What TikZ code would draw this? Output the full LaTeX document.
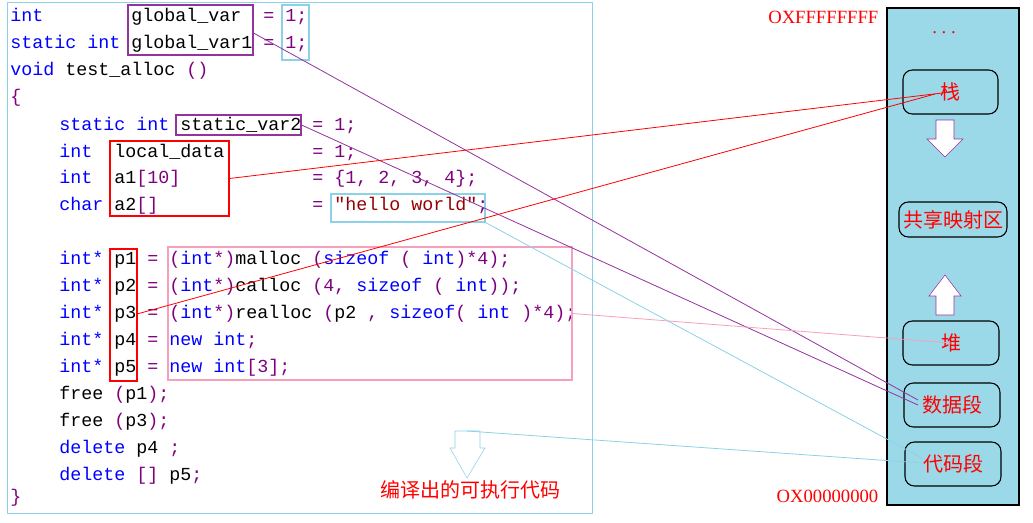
\documentclass[tikz,border=0pt]{standalone}
\usepackage{fontspec}
\setmainfont{Liberation Serif}
\setmonofont{Liberation Mono}
\newfontfamily\cjk{Noto Sans CJK SC}
\usetikzlibrary{fit}

\definecolor{kwblue}{RGB}{0,0,255}
\definecolor{numpurple}{RGB}{128,0,128}
\definecolor{strred}{RGB}{150,0,0}
\definecolor{boxcyan}{RGB}{140,210,230}
\definecolor{boxpurple}{RGB}{150,50,160}
\definecolor{boxpink}{RGB}{245,160,190}
\definecolor{memblue}{RGB}{155,217,232}

\newcommand{\kw}[1]{\textcolor{kwblue}{#1}}
\newcommand{\nm}[1]{\textcolor{numpurple}{#1}}
\newcommand{\st}[1]{\textcolor{strred}{#1}}

\tikzset{
  code/.style={anchor=west, inner sep=0pt, font=\ttfamily\fontsize{13.75}{16}\selectfont},
  frame/.style={draw, color=#1, inner sep=0pt, line width=0.8pt},
  seg/.style={draw, thick, rounded corners=7pt, inner sep=0pt},
  segtext/.style={text=red, font=\cjk\fontsize{15}{17}\selectfont},
  addr/.style={text=red, font=\fontsize{14}{16}\selectfont},
  link/.style={line width=0.6pt}
}

\begin{document}
\begin{tikzpicture}[x=0.75pt, y=-0.75pt]
  \useasboundingbox (0,0) rectangle (1033,522);
  \fill[white] (0,0) rectangle (1033,522);

  % source code
  \draw[boxcyan, line width=0.6pt] (7,2) rectangle (592,513);
  \node[code] (l1) at (10,17) {\kw{int}~~~~~~~~global\_var~~\nm{=}~\nm{1;}};
  \node[code] (l2) at (10,44) {\kw{static}~\kw{int}~global\_var1~\nm{=}~\nm{1;}};
  \node[code] (l3) at (10,71) {\kw{void}~test\_alloc~\nm{()}};
  \node[code] (l4) at (10,98) {\nm{\{}};
  \node[code] (l5) at (59,125) {\kw{static}~\kw{int}~static\_var2~\nm{=}~\nm{1;}};
  \node[code] (l6) at (59,152) {\kw{int}~~local\_data~~~~~~~~\nm{=}~\nm{1;}};
  \node[code] (l7) at (59,179) {\kw{int}~~a1\nm{[10]}~~~~~~~~~~~~\nm{=}~\nm{\{1,~2,~3,~4\};}};
  \node[code] (l8) at (59,206) {\kw{char}~a2\nm{[]}~~~~~~~~~~~~~~\nm{=}~\st{"hello~world"}\nm{;}};
  \node[code] (l9) at (59,260) {\kw{int*}~p1~\nm{=}~\nm{(}\kw{int}\nm{*)}malloc~\nm{(}\kw{sizeof}~\nm{(}~\kw{int}\nm{)*4);}};
  \node[code] (l10) at (59,287) {\kw{int*}~p2~\nm{=}~\nm{(}\kw{int}\nm{*)}calloc~\nm{(4,}~\kw{sizeof}~\nm{(}~\kw{int}\nm{));}};
  \node[code] (l11) at (59,314) {\kw{int*}~p3~\nm{=}~\nm{(}\kw{int}\nm{*)}realloc~\nm{(}p2~\nm{,}~\kw{sizeof}\nm{(}~\kw{int}~\nm{)*4);}};
  \node[code] (l12) at (59,341) {\kw{int*}~p4~\nm{=}~\kw{new}~\kw{int}\nm{;}};
  \node[code] (l13) at (59,368) {\kw{int*}~p5~\nm{=}~\kw{new}~\kw{int}\nm{[3];}};
  \node[code] (l14) at (59,395) {free~\nm{(}p1\nm{);}};
  \node[code] (l15) at (59,422) {free~\nm{(}p3\nm{);}};
  \node[code] (l16) at (59,449) {\kw{delete}~p4~\nm{;}};
  \node[code] (l17) at (59,476) {\kw{delete}~\nm{[]}~p5\nm{;}};
  \node[code] (l18) at (10,498) {\nm{\}}};
  \node[segtext] (exe) at (470,490) {编译出的可执行代码};

  % boxes around the code
  \node[frame=boxpurple, fit={(128,5)(253,55)}] (gvar) {};
  \node[frame=boxcyan, fit={(282,5)(309,60)}] (ones) {};
  \node[frame=boxpurple, fit={(176,115)(301,135)}] (svar) {};
  \node[frame=red, fit={(110,141)(229,216)}] (local) {};
  \node[frame=boxcyan, fit={(331,194)(485,222)}] (hello) {};
  \node[frame=red, fit={(110,249)(137,381)}] (ptrs) {};
  \node[frame=boxpink, fit={(168,247)(572,380)}] (alloc) {};
  \coordinate (p3) at (137,314);
  \draw[boxcyan, fill=white] (455,431) -- (480,431) -- (480,448) -- (485,448)
    -- (467,478) -- (450,448) -- (455,448) -- cycle;
  \coordinate (exetop) at (467,431);

  % memory layout
  \draw[fill=memblue, thick] (887,8) rectangle (1019,505);
  \node[addr, anchor=east] (top) at (883,17) {OXFFFFFFFF};
  \node[addr, anchor=east] (bottom) at (883,496) {OX00000000};
  \node[text=red, font=\fontsize{14}{16}\selectfont] (dots) at (944,33) {.~.~.};
  \node[seg, fit={(903,70)(998,114)}] (stack) {};
  \node[seg, fit={(899,202)(1007,237)}] (shared) {};
  \node[seg, fit={(903,321)(999,365)}] (heap) {};
  \node[seg, fit={(904,383)(1000,427)}] (data) {};
  \node[seg, fit={(905,442)(1001,486)}] (text) {};
  \node[segtext] at (stack) {栈};
  \node[segtext] at (shared) {共享映射区};
  \node[segtext] at (heap) {堆};
  \node[segtext] at (data) {数据段};
  \node[segtext] at (text) {代码段};
  \draw[boxpurple, fill=white] (936,120) -- (954,120) -- (954,139) -- (963,139)
    -- (945,157) -- (927,139) -- (936,139) -- cycle;
  \draw[boxpurple, fill=white] (936,315) -- (954,315) -- (954,296) -- (961,296)
    -- (945,275) -- (929,296) -- (936,296) -- cycle;

  % connectors
  \draw[link, boxpurple] (gvar.east |- 0,33) -- (918,400);
  \draw[link, boxpurple] (svar.east) -- (918,405);
  \draw[link, red] (local.east) -- (stack.center);
  \draw[link, red] (p3) -- (935,94);
  \draw[link, boxpink] (alloc.east) -- (heap.center);
  \draw[link, boxcyan] (hello.south east) -- (922,458);
  \draw[link, boxcyan] (exetop) -- (922,463);
\end{tikzpicture}
\end{document}
